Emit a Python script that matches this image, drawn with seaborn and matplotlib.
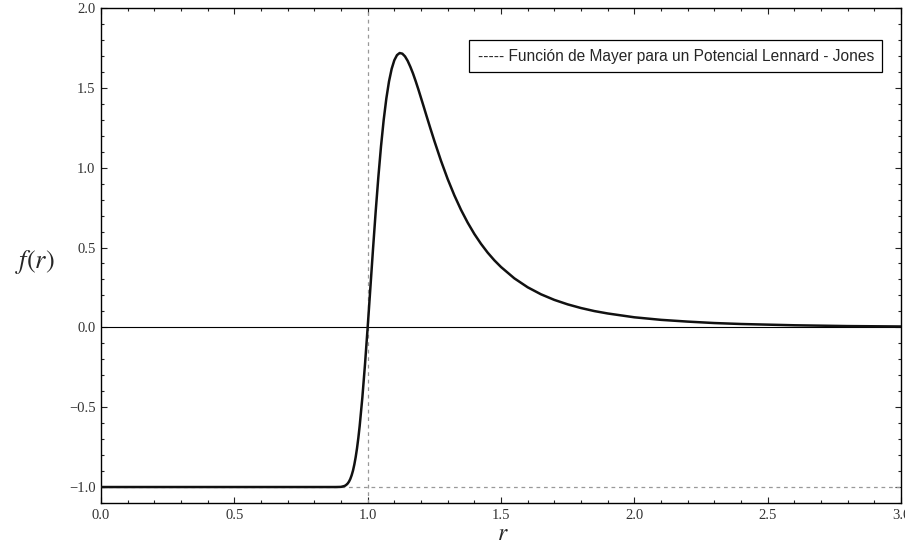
import matplotlib
matplotlib.use("Agg")
import matplotlib.pyplot as plt
import seaborn as sns
import pandas as pd
from matplotlib.ticker import MultipleLocator

# Values
r_values = [0.0, 0.2, 0.4, 0.6, 0.8, 0.85, 0.87, 0.88, 0.895, 0.90, 0.905, 0.91, 0.915,
            0.92, 0.925, 0.93, 0.935, 0.94, 0.945, 0.95, 0.955, 0.96, 0.965, 0.97,
            0.98, 0.99, 1.00, 1.01, 1.02, 1.03, 1.04, 1.05, 1.06, 1.07, 1.08, 1.09,
            1.10, 1.11, 1.12, 1.13, 1.14, 1.15, 1.16, 1.17, 1.18, 1.19, 1.20, 1.21,
            1.22, 1.235, 1.25, 1.275, 1.30, 1.325, 1.35, 1.375, 1.40, 1.425, 1.45,
            1.475, 1.50, 1.55, 1.60, 1.65, 1.70, 1.75, 1.80, 1.85, 1.90, 2.00, 2.10,
            2.20, 2.30, 2.40, 2.60, 2.80, 3.00]
f_values = [-1.0, -1.0, -1.0, -1.0, -1.0, -1.0, -1.0, -1.0, -0.9994, -0.999, -0.997,
            -0.995, -0.992, -0.986, -0.978, -0.966, -0.949, -0.926, -0.897, -0.859,
            -0.813, -0.758, -0.693, -0.618, -0.441, -0.232, 0.0, 0.244, 0.489, 0.724,
            0.940, 1.133, 1.298, 1.433, 1.540, 1.619, 1.673, 1.705, 1.718, 1.714,
            1.697, 1.669, 1.632, 1.590, 1.542, 1.491, 1.437, 1.383, 1.328, 1.247,
            1.168, 1.043, 0.929, 0.827, 0.736, 0.656, 0.585, 0.523, 0.468, 0.420,
            0.378, 0.307, 0.251, 0.207, 0.172, 0.144, 0.121, 0.102, 0.087, 0.063,
            0.047, 0.036, 0.027, 0.021, 0.013, 0.008, 0.0055]
legend_label = "----- Función de Mayer para un Potencial Lennard - Jones"
x_ticks = [0.0, 0.5, 1.0, 1.5, 2.0, 2.5, 3.0]
y_ticks = [-1.0, -0.5, 0.0, 0.5, 1.0, 1.5, 2.0]

df = pd.DataFrame({"r": r_values, "f": f_values})

sns.set_style("ticks")
plt.rcParams["font.family"] = ["Liberation Serif", "DejaVu Serif"]

fig = plt.figure(figsize=(9.05, 5.55), dpi=100)
ax = fig.add_axes([101 / 905, 1 - 503 / 555, 800 / 905, 495 / 555])

ax.axvline(1.0, color="#999999", lw=0.9, ls=(0, (3, 3)), zorder=1)
ax.axhline(-1.0, color="#999999", lw=0.9, ls=(0, (3, 3)), zorder=1)
ax.axhline(0.0, color="black", lw=0.8, zorder=1)

sns.lineplot(data=df, x="r", y="f", ax=ax, color="#111111", lw=1.8, zorder=3)

ax.set_xlim(0, 3)
ax.set_ylim(-1.1, 2.0)
ax.set_xticks(x_ticks)
ax.set_yticks(y_ticks)
ax.set_xticklabels([f"{v:.1f}" for v in x_ticks])
ax.set_yticklabels([f"{v:.1f}".replace("-", "\u2212") for v in y_ticks])
ax.xaxis.set_minor_locator(MultipleLocator(0.1))
ax.yaxis.set_minor_locator(MultipleLocator(0.1))
ax.tick_params(which="both", direction="in", top=True, right=True,
               labelsize=10.5, labelcolor="#333333", color="#222222", width=0.8)
ax.tick_params(which="major", length=4, pad=4)
ax.tick_params(which="minor", length=2.5)
for s in ax.spines.values():
    s.set_linewidth(1.0)
    s.set_color("black")
ax.set_xlabel("")
ax.set_ylabel("")

ax.text(0.966, 0.903, legend_label, transform=ax.transAxes, ha="right", va="center",
        fontsize=11.2, family=["Liberation Sans", "DejaVu Sans"],
        bbox=dict(boxstyle="square,pad=0.55", fc="white", ec="black", lw=0.9))

fig.text(35 / 905, 1 - 262 / 555, "$f(r)$", ha="center", va="center", fontsize=19,
         math_fontfamily="stix")
fig.text(503 / 905, 1 - 535 / 555, "$r$", ha="center", va="center", fontsize=17,
         math_fontfamily="stix")

fig.savefig("out.png", dpi=100)
